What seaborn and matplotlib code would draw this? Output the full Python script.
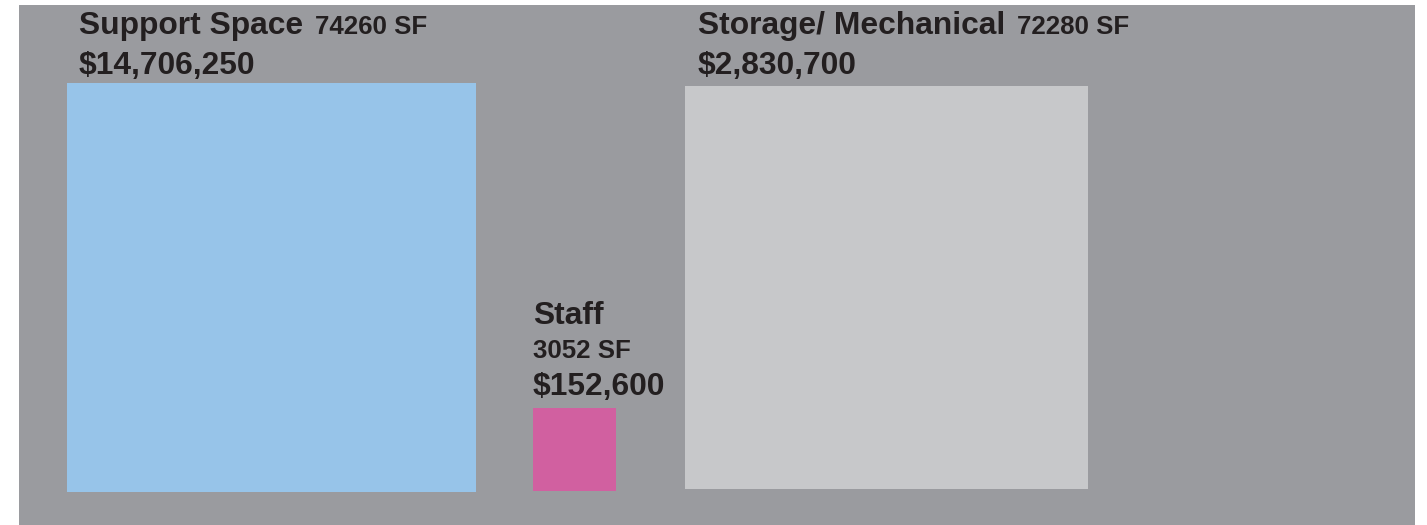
import matplotlib
matplotlib.use("Agg")
import matplotlib.pyplot as plt
import seaborn as sns
import numpy as np

# ---- data ----
categories = ["Support Space", "Staff", "Storage/ Mechanical"]
square_feet = [74260, 3052, 72280]
costs = [14706250, 152600, 2830700]
colors = ["#97c4e9", "#d160a0", "#c7c8ca"]

# ---- layout (pixels) ----
W, H = 1427, 525
scale = 1.5                      # px of side per sqrt(SF)
lefts = [67, 533, 685]
bottoms = [492, 491, 489]
text_x = [79, 533, 698]

sns.set_theme(style="white")
plt.rcParams["font.family"] = ["Liberation Sans", "DejaVu Sans"]

fig = plt.figure(figsize=(W / 100, H / 100), dpi=100, facecolor="white")
x0, x1, y0, y1 = 19, 1415, 5, 525
ax = fig.add_axes([x0 / W, 1 - y1 / H, (x1 - x0) / W, (y1 - y0) / H])
ax.set_facecolor("#9a9b9f")
ax.set_xlim(x0, x1)
ax.set_ylim(y1, y0)
ax.set_axis_off()
ax.add_patch(plt.Rectangle((x0, y0), x1 - x0, y1 - y0, color="#9a9b9f", zorder=0))

sides = scale * np.sqrt(np.array(square_feet, dtype=float))
ax.bar(lefts, -sides, width=sides, bottom=bottoms, align="edge",
       color=colors, linewidth=0, zorder=2)

tc = "#231f20"
big, small = 22.9, 18.6
fig.canvas.draw()
renderer = fig.canvas.get_renderer()

for i, (cat, sf, cost) in enumerate(zip(categories, square_feet, costs)):
    tx = text_x[i]
    if cat == "Staff":
        ax.text(tx, 324, cat, fontsize=big, fontweight="bold", color=tc, va="baseline", ha="left")
        ax.text(tx, 358, f"{sf} SF", fontsize=small, fontweight="bold", color=tc, va="baseline", ha="left")
        ax.text(tx, 395, f"${cost:,}", fontsize=big, fontweight="bold", color=tc, va="baseline", ha="left")
    else:
        t = ax.text(tx, 34, cat, fontsize=big, fontweight="bold", color=tc, va="baseline", ha="left")
        bb = t.get_window_extent(renderer)
        x_end = ax.transData.inverted().transform((bb.x1, bb.y0))[0]
        ax.text(x_end + 12, 34, f"{sf} SF", fontsize=small, fontweight="bold", color=tc,
                va="baseline", ha="left")
        ax.text(tx, 74, f"${cost:,}", fontsize=big, fontweight="bold", color=tc, va="baseline", ha="left")

fig.savefig("out.png", dpi=100, facecolor="white")
